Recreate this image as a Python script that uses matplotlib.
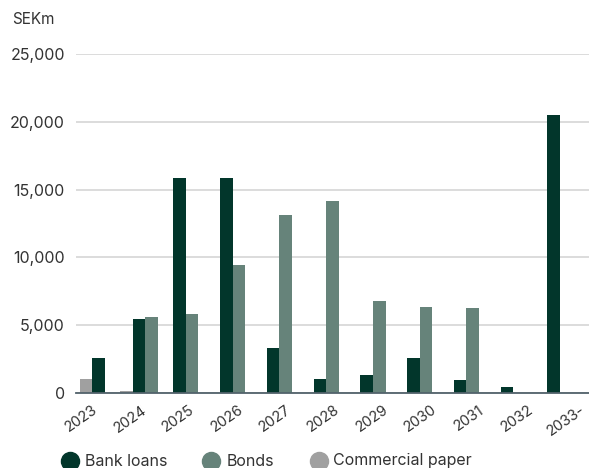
import matplotlib
matplotlib.use("Agg")
import matplotlib.pyplot as plt
from matplotlib.lines import Line2D
import numpy as np

plt.rcParams['font.family'] = ['Inter', 'DejaVu Sans']

years = ["2023", "2024", "2025", "2026", "2027", "2028", "2029", "2030", "2031", "2032", "2033-"]
commercial_paper = [1000, 150, None, None, None, None, None, None, None, None, None]
bank_loans = [2580, 5460, 15850, 15850, 3320, 1030, 1330, 2580, 960, 440, 20500]
bonds = [None, 5600, 5830, 9440, 13130, 14160, 6780, 6340, 6270, 0, 0]
series_names = ["Commercial paper", "Bank loans", "Bonds"]
series_vals = [commercial_paper, bank_loans, bonds]
colors = {"Bank loans": "#02362b", "Bonds": "#66837a", "Commercial paper": "#a0a0a0"}
yticks = [0, 5000, 10000, 15000, 20000, 25000]

W, H = 589, 468
fig = plt.figure(figsize=(W / 100, H / 100), dpi=100)
ax = fig.add_axes([76 / W, (H - 393) / H, (589 - 76) / W, (393 - 54) / H])

bw = 0.27
for i in range(len(years)):
    present = [k for k in range(3) if series_vals[k][i] is not None]
    n = len(present)
    for j, k in enumerate(present):
        off = (j - (n - 1) / 2) * bw
        ax.bar(i + off, series_vals[k][i], width=bw,
               color=colors[series_names[k]], zorder=3, linewidth=0)

ax.set_xlim(-0.349, 10.62)
ax.set_ylim(0, 25000)
ax.set_yticks(yticks)
ax.set_yticklabels([f"{v:,}" for v in yticks])
ax.yaxis.grid(True, color="#d6d6d6", linewidth=1.2, zorder=0)
ax.set_axisbelow(True)
for s in ["top", "right", "left"]:
    ax.spines[s].set_visible(False)
ax.spines["bottom"].set_color("#52626b")
ax.spines["bottom"].set_linewidth(1.3)
ax.spines["bottom"].set_zorder(4)

xpos = np.arange(len(years)) * 1.035 - 0.227
ax.set_xticks(xpos)
ax.set_xticklabels(years, rotation=35, ha="center", va="top")
ax.tick_params(axis="x", length=0, pad=7, labelsize=10.5, labelcolor="#333333")
ax.tick_params(axis="y", length=0, pad=8, labelsize=11.5, labelcolor="#333333")

fig.text(12 / W, 1 - 20 / H, "SEKm", fontsize=11, color="#333333", va="center", ha="left")

legend_items = [("Bank loans", 70, 85), ("Bonds", 211, 227), ("Commercial paper", 319, 333)]
ly = 1 - 461 / H
for name, cx, tx in legend_items:
    fig.add_artist(Line2D([cx / W], [ly], marker="o", markersize=13, linestyle="none",
                          color=colors[name], transform=fig.transFigure))
    fig.text(tx / W, ly, name, fontsize=11.5, color="#333333", va="center", ha="left")

fig.savefig("out.png", dpi=100, facecolor="white")
